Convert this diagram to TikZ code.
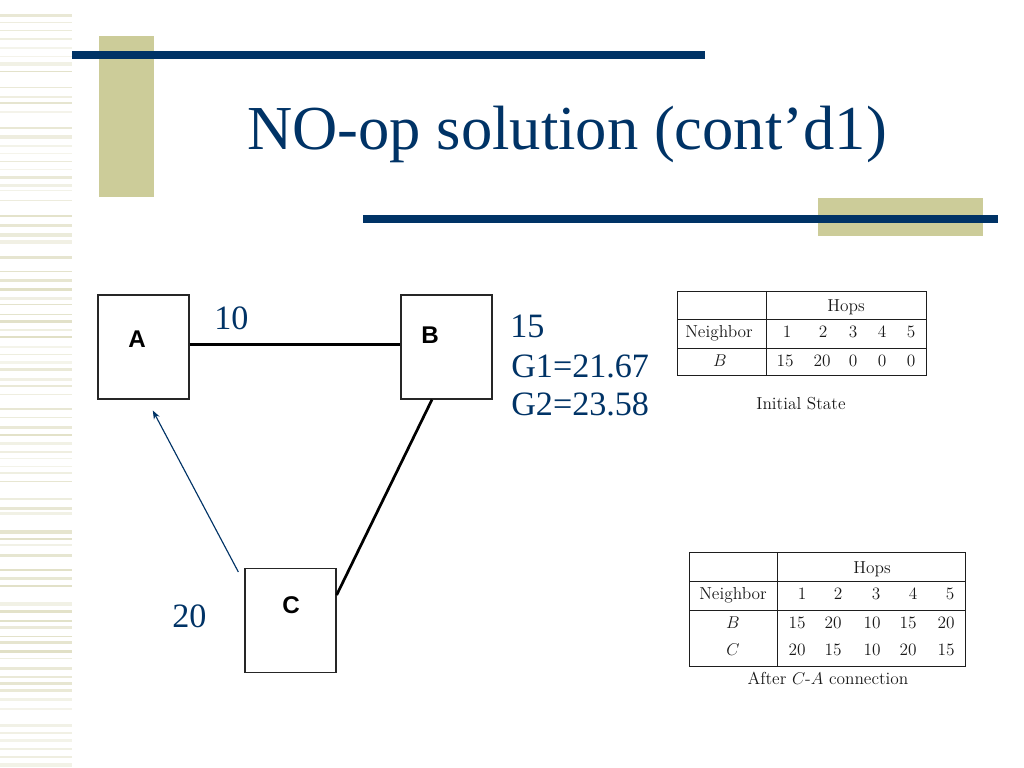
\documentclass[tikz,border=0pt]{standalone}
\usepackage{fontspec}
\usetikzlibrary{arrows.meta,calc}
\newfontfamily\timesf{Liberation Serif}
\newfontfamily\arialf{Liberation Sans}
\definecolor{navy}{RGB}{0,51,102}
\definecolor{khaki}{RGB}{204,204,153}
\definecolor{stripecol}{RGB}{222,221,192}
\definecolor{tline}{RGB}{30,30,30}
\begin{document}
\begin{tikzpicture}[x=0.703125pt,y=-0.703125pt,
  titletext/.style={font=\timesf\fontsize{44}{50}\selectfont, text=navy, anchor=base west, inner sep=0pt},
  lbl/.style={font=\timesf\fontsize{24}{28}\selectfont, text=navy, anchor=base west, inner sep=0pt},
  box/.style={draw=black!85, line width=0.9pt, fill=white, minimum width=64pt, minimum height=73pt, inner sep=0pt},
  boxlabel/.style={font=\arialf\bfseries\fontsize{17}{20}\selectfont, inner sep=0pt},
  link/.style={draw=black, line width=1.9pt},
  navyarrow/.style={draw=navy, line width=0.8pt, -{Stealth[length=6pt,width=4.5pt]}},
  tcell/.style={font=\fontsize{12.2}{14}\selectfont, text=black!90, anchor=base, inner sep=0pt},
  tframe/.style={draw=tline, line width=0.65pt}
  ]
% background / bounding box
\fill[white] (0,0) rectangle (1024,768);
\useasboundingbox (0,0) rectangle (1024,768);

% left stripe pattern
\pgfmathsetseed{4242}
\foreach \i in {0,...,94} {
  \pgfmathsetmacro\yy{5+\i*8.05+3*rnd}
  \pgfmathsetmacro\hh{0.8+2.6*rnd}
  \pgfmathsetmacro\oo{0.3+0.6*rnd}
  \pgfmathsetmacro\pp{rnd}
  \ifdim\pp pt>0.12pt
    \fill[stripecol, opacity=\oo] (0,\yy) rectangle (72,\yy+\hh);
  \fi
}

% decorative bars
\fill[khaki] (99,36) rectangle (154,197);
\fill[navy] (72,51) rectangle (705,59);
\fill[khaki] (818,198) rectangle (983,236);
\fill[navy] (363,215) rectangle (998,223);

% title
\node[titletext] (title) at (247,150) {NO-op solution (cont’d1)};

% graph nodes
\node[box] (A) at (143.5,347) {};
\node[box] (B) at (446.5,347) {};
\node[box] (C) at (290.5,620.5) {};
\node[boxlabel] (Alab) at (137,339) {A};
\node[boxlabel] (Blab) at (430,335) {B};
\node[boxlabel] (Clab) at (291,605) {C};

% connectors
\draw[link] ($(A.east)+(0,-2.5)$) -- ($(B.west)+(0,-2.5)$);
\draw[link] ($(B.south)+(-14.5,0)$) -- ($(C.east)+(0,-25.5)$);
\coordinate (arrstart) at ($(C.north west)+(-6,4)$);
\draw[navyarrow, shorten >=8.7pt] (arrstart) -- ($(A.south)+(3.5,0)$);

% edge labels
\node[lbl] (l10) at (214,329) {10};
\node[lbl] (l20) at (172,627) {20};
\node[lbl] (l15) at (510,337) {15};
\node[lbl] (lg1) at (511,377) {G1=21.67};
\node[lbl] (lg2) at (511,415) {G2=23.58};

% table 1
\draw[tframe] (677,291) rectangle (926,375);
\draw[tframe] (766,291) -- (766,375);
\draw[tframe] (677,319) -- (926,319);
\draw[tframe] (677,348) -- (926,348);
\node[tcell] (t1h) at (846,311) {Hops};
\node[tcell] (t1n) at (719,338) {Neighbor};
\node[tcell] (t1c1) at (787,338) {1};
\node[tcell] (t1c2) at (823,338) {2};
\node[tcell] (t1c3) at (853,338) {3};
\node[tcell] (t1c4) at (882,338) {4};
\node[tcell] (t1c5) at (911,338) {5};
\node[tcell] (t1b) at (720,366) {$B$};
\node[tcell] (t1b1) at (785,366) {15};
\node[tcell] (t1b2) at (822,366) {20};
\node[tcell] (t1b3) at (853,366) {0};
\node[tcell] (t1b4) at (882,366) {0};
\node[tcell] (t1b5) at (911,366) {0};
\node[tcell] (t1cap) at (801,409) {Initial State};

% table 2
\draw[tframe] (689,552) rectangle (965,666);
\draw[tframe] (777,552) -- (777,666);
\draw[tframe] (689,581) -- (965,581);
\draw[tframe] (689,610) -- (965,610);
\node[tcell] (t2h) at (872,573) {Hops};
\node[tcell] (t2n) at (733,599) {Neighbor};
\node[tcell] (t2c1) at (802,599) {1};
\node[tcell] (t2c2) at (838,599) {2};
\node[tcell] (t2c3) at (876,599) {3};
\node[tcell] (t2c4) at (913,599) {4};
\node[tcell] (t2c5) at (950,599) {5};
\node[tcell] (t2b) at (733,628) {$B$};
\node[tcell] (t2b1) at (797,628) {15};
\node[tcell] (t2b2) at (833,628) {20};
\node[tcell] (t2b3) at (872,628) {10};
\node[tcell] (t2b4) at (908,628) {15};
\node[tcell] (t2b5) at (946,628) {20};
\node[tcell] (t2cc) at (733,655) {$C$};
\node[tcell] (t2c1v) at (797,655) {20};
\node[tcell] (t2c2v) at (833,655) {15};
\node[tcell] (t2c3v) at (872,655) {10};
\node[tcell] (t2c4v) at (908,655) {20};
\node[tcell] (t2c5v) at (946,655) {15};
\node[tcell] (t2cap) at (828,684) {After $C$-$A$ connection};
\end{tikzpicture}
\end{document}
